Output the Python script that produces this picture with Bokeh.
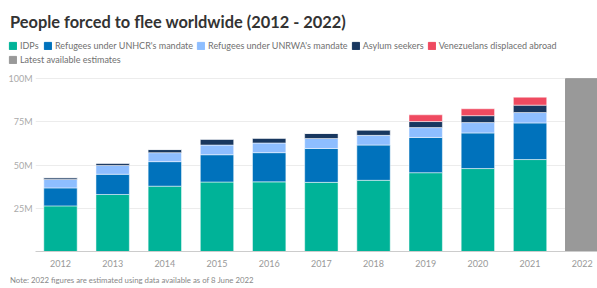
from bokeh.plotting import figure
from bokeh.layouts import column
from bokeh.models import ColumnDataSource, Range1d, FixedTicker, Legend, LegendItem, Label, Title
from bokeh.embed import file_html
from bokeh.resources import INLINE

# ---- data (millions) ----
years = [2012, 2013, 2014, 2015, 2016, 2017, 2018, 2019, 2020, 2021]
idps = [26.4, 33.0, 37.8, 40.2, 40.3, 40.0, 41.2, 45.6, 48.0, 53.2]
refugees_unhcr = [10.4, 11.7, 14.2, 15.8, 16.9, 19.6, 20.4, 20.4, 20.6, 21.2]
refugees_unrwa = [4.9, 5.1, 5.2, 5.6, 5.6, 5.8, 5.6, 5.7, 6.0, 6.0]
asylum_seekers = [1.0, 1.3, 1.8, 3.4, 2.8, 2.9, 3.1, 3.5, 4.0, 4.3]
venezuelans = [0, 0, 0, 0, 0, 0, 0, 3.9, 4.0, 4.6]

estimate_years = [2022]
estimate_total = [100.0]

series_names = ["IDPs", "Refugees under UNHCR's mandate", "Refugees under UNRWA's mandate",
                "Asylum seekers", "Venezuelans displaced abroad"]
estimate_name = "Latest available estimates"
colors = ["#00B398", "#0072BC", "#8EBEFF", "#18375F", "#EF4A60"]
estimate_color = "#999999"

y_ticks = [25, 50, 75, 100]
y_tick_labels = ["25M", "50M", "75M", "100M"]
all_years = years + estimate_years
x_tick_labels = [str(y) for y in all_years]

title_text = "People forced to flee worldwide (2012 - 2022)"
note_text = "Note: 2022 figures are estimated using data available as of 8 June 2022"

keys = ["idps", "unhcr", "unrwa", "asylum", "ven"]
source = ColumnDataSource(dict(year=years, idps=idps, unhcr=refugees_unhcr, unrwa=refugees_unrwa,
                               asylum=asylum_seekers, ven=venezuelans))
est_source = ColumnDataSource(dict(year=estimate_years, total=estimate_total))

W = 597
HEAD_H = 70
MAIN_H = 288 - HEAD_H

# ---------------- header: title + legend ----------------
head = figure(width=W, height=HEAD_H, output_backend="svg", toolbar_location=None,
              x_range=Range1d(0, W), y_range=Range1d(0, HEAD_H),
              min_border=0, x_axis_type=None, y_axis_type=None)
head.frame_align = False
head.outline_line_color = None
head.xgrid.visible = False
head.ygrid.visible = False

# legend swatch renderers (kept outside the visible range of the header)
swatch_src = ColumnDataSource(dict(x=[-1000], top=[0]))
swatches = [head.vbar(x="x", top="top", width=1, color=c, source=swatch_src) for c in colors]
est_swatch = head.vbar(x="x", top="top", width=1, color=estimate_color, source=swatch_src)

leg_kw = dict(orientation="horizontal", glyph_width=9, glyph_height=9, label_height=9,
              label_standoff=3, spacing=3, padding=0, margin=0,
              background_fill_alpha=0, border_line_color=None,
              label_text_font="Lato", label_text_font_size="9px", label_text_color="#707070")
legend1 = Legend(items=[LegendItem(label=n, renderers=[r]) for n, r in zip(series_names, swatches)],
                 location=(8, 19.1), **leg_kw)
legend2 = Legend(items=[LegendItem(label=estimate_name, renderers=[est_swatch])],
                 location=(8, 4.7), **leg_kw)
head.add_layout(legend1)
head.add_layout(legend2)
head.add_layout(Label(x=9.5, y=HEAD_H - 21, x_units="screen", y_units="screen", text=title_text,
                      text_font="Lato", text_font_style="bold", text_font_size="16.4px",
                      text_color="#333333", text_baseline="middle", text_align="left"))

# ---------------- main chart ----------------
p = figure(width=W, height=MAIN_H, output_backend="svg", toolbar_location=None,
           x_range=Range1d(2011.521, 2022.293), y_range=Range1d(0, 103),
           min_border_left=35, min_border_right=0, min_border_top=3, min_border_bottom=33)
p.frame_align = False
p.outline_line_color = None

renderers = p.vbar_stack(keys, x="year", width=0.64, color=colors, source=source,
                         line_color="white", line_width=0.5)
est_r = p.vbar(x="year", top="total", width=0.64, source=est_source, color=estimate_color)

p.xaxis.ticker = FixedTicker(ticks=all_years)
p.xaxis.major_label_overrides = {y: s for y, s in zip(all_years, x_tick_labels)}
p.xaxis.axis_line_color = "#cccccc"
p.xaxis.major_tick_line_color = None
p.xaxis.major_tick_out = 0
p.xaxis.minor_tick_line_color = None
p.xaxis.major_label_standoff = 8
p.xaxis.major_label_text_font = "Lato"
p.xaxis.major_label_text_font_size = "9px"
p.xaxis.major_label_text_color = "#999999"

p.yaxis.ticker = FixedTicker(ticks=y_ticks)
p.yaxis.major_label_overrides = {t: s for t, s in zip(y_ticks, y_tick_labels)}
p.yaxis.axis_line_color = None
p.yaxis.major_tick_line_color = None
p.yaxis.major_tick_out = 0
p.yaxis.minor_tick_line_color = None
p.yaxis.major_label_standoff = 3
p.yaxis.major_label_text_font = "Lato"
p.yaxis.major_label_text_font_size = "9px"
p.yaxis.major_label_text_color = "#aaaaaa"

p.xgrid.visible = False
p.ygrid.ticker = FixedTicker(ticks=y_ticks)
p.ygrid.grid_line_color = "#ececec"

p.add_layout(Title(text=note_text, align="left", offset=-25.5, standoff=7,
                   text_font="Lato", text_font_style="normal", text_font_size="7.8px",
                   text_color="#888888"), "below")

layout = column(head, p, spacing=0)
open("out.html", "w").write(file_html(layout, INLINE))
